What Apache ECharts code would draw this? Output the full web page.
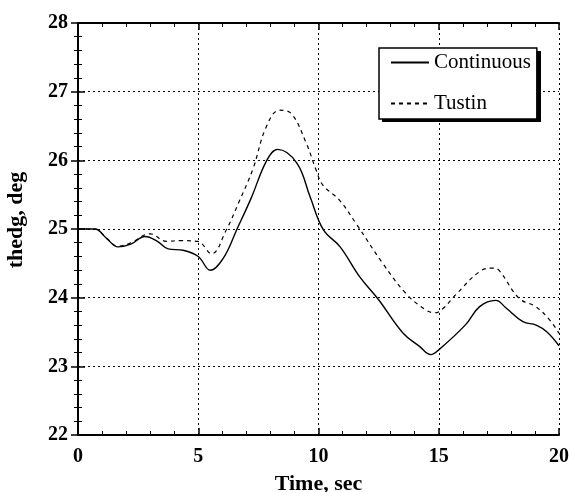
<!DOCTYPE html>
<html>
<head>
<meta charset="utf-8">
<script src="https://cdn.jsdelivr.net/npm/echarts@6/dist/echarts.min.js"></script>
<style>
html,body{margin:0;padding:0;background:#fff;}
#chart{width:569px;height:492px;}
</style>
</head>
<body>
<div id="chart"></div>
<script>
// values (time in sec, thedg in deg)
var contT = [0, 0.7, 1.2, 1.66, 2.2, 2.78, 3.3, 3.75, 4.37, 5.0, 5.5, 6.05, 6.6, 7.2, 7.85, 8.3, 9.1, 9.65, 10.2, 10.9, 11.7, 12.5, 13.5, 14.2, 14.67, 15.0, 16.1, 16.7, 17.37, 17.8, 18.5, 19.05, 19.5, 20];
var contY = [25.0, 25.0, 24.86, 24.74, 24.78, 24.89, 24.82, 24.71, 24.69, 24.6, 24.4, 24.58, 24.99, 25.45, 26.0, 26.16, 25.96, 25.47, 24.99, 24.74, 24.31, 23.97, 23.49, 23.29, 23.17, 23.24, 23.6, 23.87, 23.96, 23.85, 23.65, 23.6, 23.5, 23.3];
var tusT = [0, 0.7, 1.2, 1.66, 2.2, 3.0, 3.68, 4.3, 4.98, 5.55, 6.17, 6.7, 7.27, 7.83, 8.38, 8.87, 9.49, 9.9, 10.18, 10.87, 11.56, 12.67, 13.64, 14.47, 14.85, 15.2, 15.7, 16.7, 17.23, 17.5, 18.34, 19.03, 19.6, 20];
var tusY = [25.0, 25.0, 24.86, 24.75, 24.8, 24.93, 24.82, 24.83, 24.82, 24.64, 24.99, 25.4, 25.87, 26.49, 26.73, 26.68, 26.25, 25.86, 25.64, 25.42, 25.08, 24.5, 24.06, 23.82, 23.78, 23.85, 24.04, 24.38, 24.43, 24.4, 23.99, 23.87, 23.68, 23.48];
var seriesNames = ['Continuous', 'Tustin'];

function pairs(t, y) {
	var out = [];
	for (var i = 0; i < t.length; i++) {
		out.push([t[i], y[i]]);
	}
	return out;
}

var serif = '"Liberation Serif", "DejaVu Serif", serif';
var chart = echarts.init(document.getElementById('chart'));

var dotted = { show: true, lineStyle: { color: '#000', type: [2, 3], width: 1 } };
var tickIn = { show: true, inside: true, length: 7, lineStyle: { color: '#000', width: 1.5 } };
var minorIn = { show: true, splitNumber: 5, length: 4, lineStyle: { color: '#000', width: 1 } };

var option = {
	animation: false,
	// drop shadow behind the legend box
	graphic: [{
		type: 'rect', z: 1, left: 382, top: 51,
		shape: { width: 159, height: 71 },
		style: { fill: '#000' }
	}],
	grid: { left: 78, right: 10, top: 23, bottom: 57, outerBoundsMode: 'none', containLabel: false },
	legend: {
		data: seriesNames,
		orient: 'vertical',
		z: 10,
		left: 379,
		top: 48,
		width: 159,
		padding: [4, 6, 5, 11],
		itemGap: 20,
		itemWidth: 38,
		itemHeight: 12,
		backgroundColor: '#fff',
		borderColor: '#000',
		borderWidth: 1.5,
		itemStyle: { opacity: 0 },
		textStyle: { fontFamily: serif, fontSize: 21, color: '#000' }
	},
	xAxis: [{
		type: 'value', min: 0, max: 20, interval: 5,
		name: 'Time, sec', nameLocation: 'middle', nameGap: 38,
		nameTextStyle: { fontFamily: serif, fontSize: 22, fontWeight: 'bold', color: '#000' },
		axisLine: { show: true, lineStyle: { color: '#000', width: 2 } },
		axisTick: tickIn, minorTick: minorIn,
		axisLabel: { margin: 12, fontFamily: serif, fontSize: 20, fontWeight: 'bold', color: '#000' },
		splitLine: dotted
	}, {
		type: 'value', min: 0, max: 20, interval: 5, position: 'top',
		axisLine: { show: true, lineStyle: { color: '#000', width: 2 } },
		axisTick: tickIn, minorTick: minorIn,
		axisLabel: { show: false }, splitLine: { show: false }
	}],
	yAxis: [{
		type: 'value', min: 22, max: 28, interval: 1,
		name: 'thedg, deg', nameLocation: 'middle', nameGap: 51,
		nameTextStyle: { fontFamily: serif, fontSize: 22, fontWeight: 'bold', color: '#000', padding: [0, 0, 0, 18] },
		axisLine: { show: true, lineStyle: { color: '#000', width: 2 } },
		axisTick: tickIn, minorTick: minorIn,
		axisLabel: { margin: 10, fontFamily: serif, fontSize: 20, fontWeight: 'bold', color: '#000' },
		splitLine: dotted
	}, {
		type: 'value', min: 22, max: 28, interval: 1, position: 'right',
		axisLine: { show: true, lineStyle: { color: '#000', width: 2 } },
		axisTick: tickIn, minorTick: minorIn,
		axisLabel: { show: false }, splitLine: { show: false }
	}],
	series: [{
		name: seriesNames[0],
		type: 'line',
		smooth: 0.4,
		symbol: 'none',
		data: pairs(contT, contY),
		lineStyle: { color: '#000', width: 1.4, type: 'solid' },
		itemStyle: { color: '#000' }
	}, {
		name: seriesNames[1],
		type: 'line',
		smooth: 0.4,
		symbol: 'none',
		data: pairs(tusT, tusY),
		lineStyle: { color: '#000', width: 1.2, type: [4, 4] },
		itemStyle: { color: '#000' }
	}]
};

chart.setOption(option, true);
</script>
</body>
</html>
